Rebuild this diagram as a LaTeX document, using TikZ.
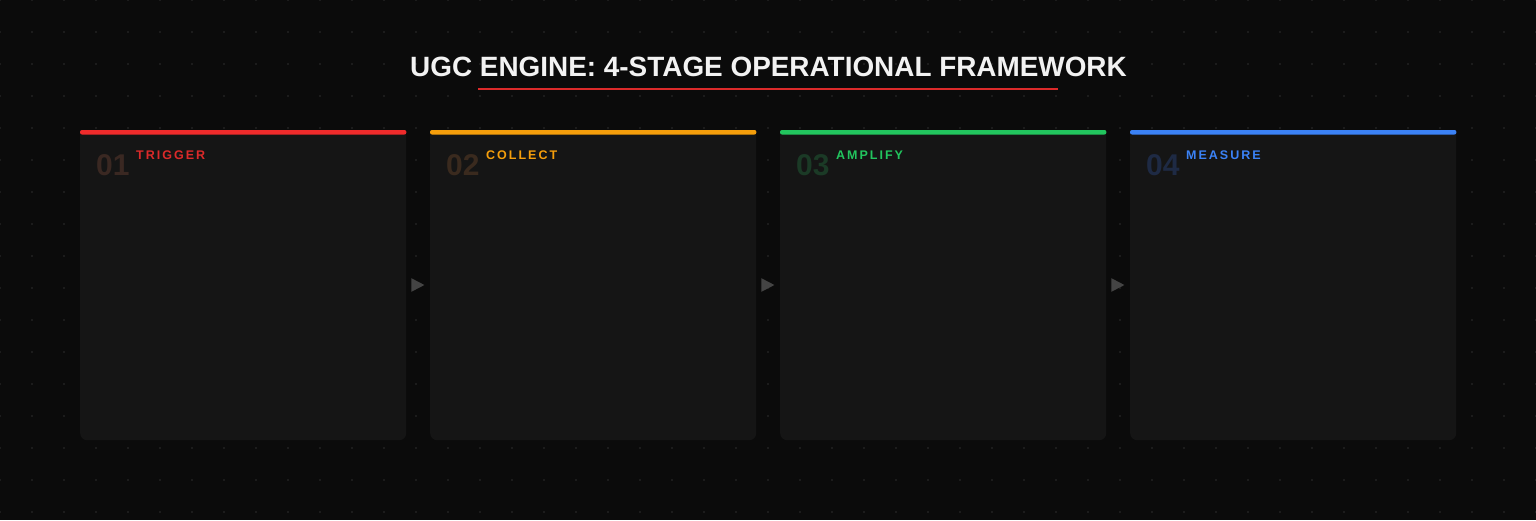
\documentclass[tikz,border=0pt]{standalone}
\usepackage{fontspec}
\setmainfont{Liberation Sans}
\newfontfamily\tagfont[LetterSpace=16]{Liberation Sans}
\usetikzlibrary{positioning,shapes.geometric}
\definecolor{bgdark}{HTML}{0B0B0B}
\definecolor{griddot}{HTML}{1C1C1C}
\definecolor{cardbg}{HTML}{151515}
\definecolor{pointer}{HTML}{444444}
\definecolor{titlewhite}{HTML}{F2F2F2}
\definecolor{redA}{HTML}{EF2B2B}
\definecolor{redB}{HTML}{DC2A2A}
\definecolor{redN}{HTML}{3A2822}
\definecolor{orangeA}{HTML}{F59E0B}
\definecolor{orangeN}{HTML}{3A2A1E}
\definecolor{greenA}{HTML}{22C55E}
\definecolor{greenN}{HTML}{1B3A26}
\definecolor{blueA}{HTML}{3B82F6}
\definecolor{blueN}{HTML}{1E2A44}
\tikzset{
  card/.style={rectangle, fill=cardbg, rounded corners=7pt, minimum width=326pt,
    minimum height=310pt, inner sep=0pt, anchor=north west},
  stagenum/.style={anchor=base west, inner sep=0pt, font=\bfseries\fontsize{30}{30}\selectfont},
  stagetag/.style={anchor=base west, inner sep=0pt, font=\tagfont\bfseries\fontsize{12.5}{12.5}\selectfont},
  pointer/.style={isosceles triangle, isosceles triangle apex angle=55, fill=pointer,
    minimum height=13pt, inner sep=0pt}
}
\begin{document}
\begin{tikzpicture}[x=1pt,y=-1pt]
  \useasboundingbox (0,0) rectangle (1536,520);
  \fill[bgdark] (0,0) rectangle (1536,520);
  % dot grid
  \foreach \gx in {0,32,...,1536}
    \foreach \gy in {0,32,...,512}
      \fill[griddot] (\gx-0.8,\gy-0.8) rectangle (\gx+0.8,\gy+0.8);
  % title
  \node[anchor=base, inner sep=0pt, text=titlewhite, font=\bfseries\fontsize{27.9}{28}\selectfont]
    (title) at (768.5,76) {UGC ENGINE: 4-STAGE OPERATIONAL FRAMEWORK};
  \coordinate (ulA) at (478,89);
  \coordinate (ulB) at (1058,89);
  \draw[redB, line width=2pt] (ulA) -- (ulB);
  % stage cards
  \foreach \i/\cx/\col/\ncol/\tcol/\num/\tag in {
      1/80/redA/redN/redB/01/TRIGGER,
      2/430/orangeA/orangeN/orangeA/02/COLLECT,
      3/780/greenA/greenN/greenA/03/AMPLIFY,
      4/1130/blueA/blueN/blueA/04/MEASURE}{
    \node[card] (c\i) at (\cx,130) {};
    \fill[cardbg] (c\i.north west) rectangle ([yshift=-12pt]c\i.north east);
    \fill[\col, rounded corners=2pt] (c\i.north west) rectangle ([yshift=-4.5pt]c\i.north east);
    \node[stagenum, text=\ncol] (n\i) at (\cx+16,175) {\num};
    \node[stagetag, text=\tcol] (t\i) at (\cx+56,159.5) {\tag};
  }
  % pointers between cards
  \node[pointer] (p1) at (415.5,285) {};
  \node[pointer] (p2) at (765.5,285) {};
  \node[pointer] (p3) at (1115.5,285) {};
\end{tikzpicture}
\end{document}
